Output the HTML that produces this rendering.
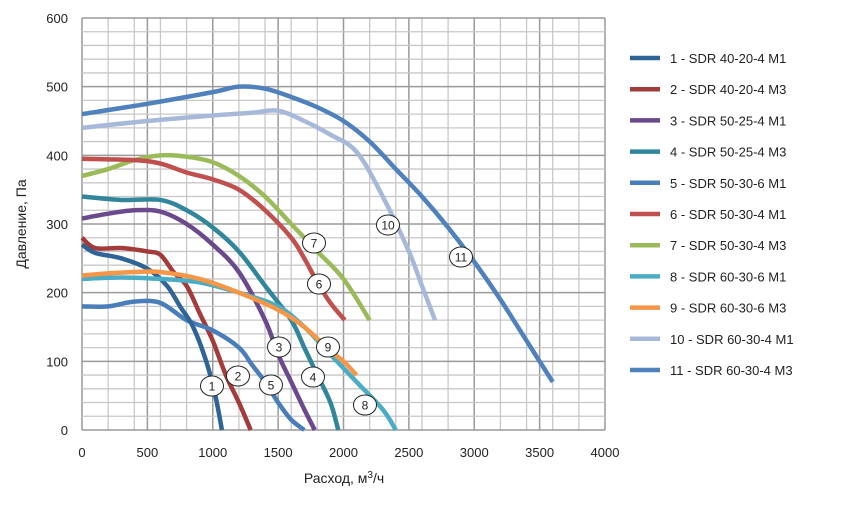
<!DOCTYPE html><html><head><meta charset="utf-8"><style>body{margin:0;background:#fff}svg{font-family:"Liberation Sans",sans-serif}</style></head><body>
<svg width="845" height="503" viewBox="0 0 845 503" xmlns="http://www.w3.org/2000/svg">
<g id="grid"></g>
<g id="series" fill="none" stroke-width="4.5" stroke-linejoin="round" stroke-linecap="butt"></g>
<g id="labels" font-size="12" text-anchor="middle"></g>
<g font-size="13" fill="#222" text-anchor="end" id="yt"></g>
<g font-size="13" fill="#222" text-anchor="middle" id="xt"></g>
<text x="26" y="224" font-size="14" fill="#222" text-anchor="middle" transform="rotate(-90 26 224)">Давление, Па</text>
<text x="344" y="483" font-size="14" fill="#222" text-anchor="middle">Расход, м<tspan dy="-5" font-size="10">3</tspan><tspan dy="5">/ч</tspan></text>
<g id="legend" font-size="13" fill="#222" style="white-space:pre"></g>
</svg>
<script>
const X=v=>82+v*0.13075, Y=p=>430-p*0.6867, NS="http://www.w3.org/2000/svg";
function el(t,a,p,txt){const e=document.createElementNS(NS,t);for(const k in a)e.setAttribute(k,a[k]);if(txt!==undefined)e.textContent=txt;document.getElementById(p).appendChild(e);return e;}
for(let v=0;v<=4000;v+=100){if(v%200&&v%500)continue;const maj=v%500==0;el('line',{x1:X(v),x2:X(v),y1:Y(0),y2:Y(600),stroke:maj?'#9a9a9a':'#c8c8c8','stroke-width':maj?1.5:1.3},'grid');}
for(let p=0;p<=600;p+=20){const maj=p%100==0;el('line',{x1:X(0),x2:X(4000),y1:Y(p),y2:Y(p),stroke:maj?'#9a9a9a':'#c8c8c8','stroke-width':maj?1.5:1.3},'grid');}
for(let p=0;p<=600;p+=100)el('text',{x:68,y:Y(p)+5},'yt',p);
for(let v=0;v<=4000;v+=500)el('text',{x:X(v),y:457},'xt',v);
const S=[
['#2F6497',[[0,270],[100,258],[300,250],[500,235],[650,210],[750,180],[850,150],[950,100],[1020,50],[1070,0]],'1 -  SDR 40-20-4 M1'],
['#A33B3B',[[0,280],[100,265],[300,265],[500,260],[600,255],[700,230],[800,210],[900,170],[1000,130],[1100,80],[1200,40],[1290,0]],'2 -  SDR 40-20-4 M3'],
['#6A4A8C',[[0,308],[200,315],[400,320],[600,318],[800,300],[1000,270],[1200,230],[1400,160],[1500,110],[1600,70],[1700,30],[1780,0]],'3 -  SDR 50-25-4 M1'],
['#31869B',[[0,340],[300,335],[600,335],[800,320],[1000,295],[1200,260],[1400,210],[1600,160],[1700,120],[1800,80],[1900,40],[1960,0]],'4 -  SDR 50-25-4 M3'],
['#4A7EBB',[[0,180],[200,180],[400,187],[600,185],[800,160],[1000,145],[1200,120],[1300,95],[1400,70],[1500,40],[1600,15],[1700,0]],'5 -  SDR 50-30-6 M1'],
['#C0504D',[[0,395],[400,393],[600,388],[800,375],[1000,365],[1200,350],[1400,320],[1600,280],[1700,250],[1800,215],[1900,185],[2010,160]],'6 -  SDR 50-30-4 M1'],
['#9BBB59',[[0,370],[200,380],[400,393],[600,400],[800,398],[1000,390],[1200,370],[1400,340],[1600,300],[1800,260],[2000,220],[2200,160]],'7 -  SDR 50-30-4 M3'],
['#4BACC6',[[0,220],[300,222],[600,220],[900,215],[1200,200],[1500,180],[1700,150],[1900,110],[2100,70],[2300,30],[2400,0]],'8 -  SDR 60-30-6 M1'],
['#F79646',[[0,225],[200,228],[400,230],[600,230],[900,220],[1200,200],[1500,175],[1700,150],[1900,115],[2000,100],[2100,80]],'9 -  SDR 60-30-6 M3'],
['#A7B9D9',[[0,440],[500,450],[1000,458],[1300,462],[1500,465],[1700,450],[1900,430],[2100,405],[2300,340],[2500,260],[2600,210],[2700,160]],'10 -  SDR 60-30-4 M1'],
['#4F81BD',[[0,460],[500,475],[1000,492],[1200,500],[1400,497],[1600,485],[1800,470],[2000,450],[2200,420],[2400,380],[2600,340],[2800,295],[3000,245],[3200,190],[3400,130],[3600,70]],'11 -  SDR 60-30-4 M3']];
function smooth(pts){const P=pts.map(q=>[X(q[0]),Y(q[1])]);let d='M'+P[0];for(let i=0;i<P.length-1;i++){const p0=P[i-1]||P[i],p1=P[i],p2=P[i+1],p3=P[i+2]||p2;const t=1/6;d+=' C'+(p1[0]+(p2[0]-p0[0])*t)+','+(p1[1]+(p2[1]-p0[1])*t)+' '+(p2[0]-(p3[0]-p1[0])*t)+','+(p2[1]-(p3[1]-p1[1])*t)+' '+p2;}return d;}
const order=[9,10,6,5,2,3,1,4,0,7,8];
order.forEach(i=>{const s=S[i];el('path',{d:smooth(s[1]),stroke:s[0]},'series');});
S.forEach((s,i)=>{const y=58+i*31.2;el('line',{x1:630,x2:660,y1:y,y2:y,stroke:s[0],'stroke-width':4.5},'legend');el('text',{x:670,y:y+5},'legend',s[2]);});
const L=[[212,386],[238,376],[279,347],[313,377],[271,385],[319,284],[314,243],[365,405],[328,347],[388,225],[461,257]];
L.forEach((c,i)=>{el('ellipse',{cx:c[0],cy:c[1],rx:11.5,ry:10,fill:'#fff',stroke:'#222','stroke-width':1},'labels');el('text',{x:c[0],y:c[1]+4.5,fill:'#222'},'labels',i+1);});
</script>
</body></html>
